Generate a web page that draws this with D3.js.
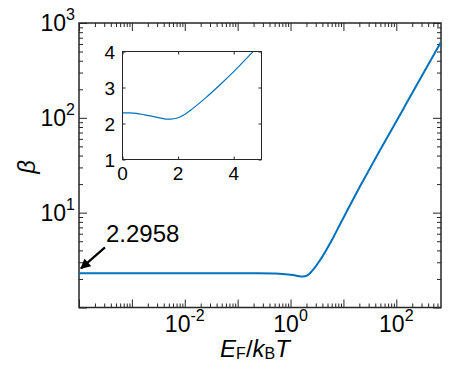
<!DOCTYPE html>
<html>
<head>
<meta charset="utf-8">
<script src="https://cdn.jsdelivr.net/npm/d3@7"></script>
<style>
  body { margin: 0; background: #fff; }
  svg { display: block; font-family: "Liberation Sans", Arial, Helvetica, sans-serif; }
  .tick text { display: none; }
</style>
</head>
<body>
<div id="chart"></div>
<script>
// curve: E_F/k_BT and beta
const efkt = [1e-4, 1e-3, 1e-2, 0.05, 0.2, 0.5, 0.8, 1.0, 1.25, 1.5, 1.7, 2.0, 2.25, 2.5, 3.0, 3.5, 4.0, 4.6, 5.2, 6.5, 8.8, 13, 21, 40, 77, 140, 245, 400, 700];
const beta = [2.2958, 2.2958, 2.2958, 2.2957, 2.294, 2.28, 2.24, 2.21, 2.17, 2.13, 2.12, 2.16, 2.26, 2.40, 2.72, 3.07, 3.44, 3.92, 4.42, 5.55, 7.7, 11.7, 19.3, 37, 71, 128, 223, 362, 632];

// axes
const xDomain = [1e-4, 700];
const yDomain = [1, 1000];
const xDecades = [-4, -3, -2, -1, 0, 1, 2];
const xLabelExp = [-2, 0, 2];
const yDecades = [0, 1, 2, 3];
const yLabelExp = [1, 2, 3];

// inset
const insetXDomain = [0, 5];
const insetYDomain = [1, 4];
const insetXTicks = [0, 2, 4];
const insetYTicks = [1, 2, 3, 4];

// annotation
const noteText = "2.2958";
const noteFrom = [3.1e-4, 4.3];
const noteTo = [1.09e-4, 2.59];

const W = 457, H = 370;
const box = {left: 79, right: 441, top: 23, bottom: 307.5};
const ibox = {left: 122.5, right: 261.5, top: 51.5, bottom: 159.5};
const axisColor = "#262626";
const lineColor = "#0072BD";

const svg = d3.select("#chart").append("svg")
  .attr("width", W).attr("height", H);

const x = d3.scaleLog().domain(xDomain).range([box.left, box.right]);
const y = d3.scaleLog().domain(yDomain).range([box.bottom, box.top]);

const minorOf = (decades, dom) => {
  const out = [];
  decades.forEach(d => {
    for (let k = 2; k <= 9; k++) {
      const v = k * Math.pow(10, d);
      if (v > dom[0] && v < dom[1]) out.push(v);
    }
  });
  return out;
};
const xMajor = xDecades.map(d => Math.pow(10, d));
const yMajor = yDecades.map(d => Math.pow(10, d));
const xMinor = minorOf(xDecades, xDomain);
const yMinor = minorOf(yDecades, yDomain);

const styleAxis = g => {
  g.select(".domain").remove();
  g.selectAll("line").attr("stroke", axisColor).attr("stroke-width", 1);
};

// tick marks, pointing in, mirrored on all four sides
[[xMajor, 8], [xMinor, 4]].forEach(([vals, len]) => {
  svg.append("g").attr("transform", `translate(0,${box.bottom})`)
    .call(d3.axisBottom(x).tickValues(vals).tickSize(-len).tickSizeOuter(0)).call(styleAxis);
  svg.append("g").attr("transform", `translate(0,${box.top})`)
    .call(d3.axisTop(x).tickValues(vals).tickSize(-len).tickSizeOuter(0)).call(styleAxis);
});
[[yMajor, 8], [yMinor, 4]].forEach(([vals, len]) => {
  svg.append("g").attr("transform", `translate(${box.left},0)`)
    .call(d3.axisLeft(y).tickValues(vals).tickSize(-len).tickSizeOuter(0)).call(styleAxis);
  svg.append("g").attr("transform", `translate(${box.right},0)`)
    .call(d3.axisRight(y).tickValues(vals).tickSize(-len).tickSizeOuter(0)).call(styleAxis);
});

svg.append("rect")
  .attr("x", box.left).attr("y", box.top)
  .attr("width", box.right - box.left).attr("height", box.bottom - box.top)
  .attr("fill", "none").attr("stroke", axisColor).attr("stroke-width", 1.5);

// power-of-ten labels
const powLabel = (px, py, exp, anchor) => {
  const t = svg.append("text").attr("x", px).attr("y", py)
    .attr("text-anchor", anchor).style("font-size", "23px").attr("fill", "#000");
  t.append("tspan").text("10");
  t.append("tspan").attr("dy", -11).style("font-size", "16px").text(exp);
};
xLabelExp.forEach(e => powLabel(x(Math.pow(10, e)), 332, e, "middle"));
yLabelExp.forEach(e => powLabel(75, y(Math.pow(10, e)) + 8, e, "end"));

// axis titles
const xt = svg.append("text").attr("x", 255).attr("y", 357)
  .attr("text-anchor", "middle").style("font-size", "24px").attr("fill", "#000");
xt.append("tspan").style("font-style", "italic").text("E");
xt.append("tspan").attr("dy", 2).style("font-size", "16px").text("F");
xt.append("tspan").attr("dy", -2).text("/");
xt.append("tspan").style("font-style", "italic").text("k");
xt.append("tspan").attr("dy", 2).style("font-size", "16px").text("B");
xt.append("tspan").attr("dy", -2).style("font-style", "italic").text("T");

svg.append("text")
  .attr("transform", "translate(35,167) rotate(-90)")
  .attr("text-anchor", "middle")
  .style("font-size", "24px").style("font-style", "italic")
  .text("β");

// main curve
const data = efkt.map((v, i) => ({x: v, b: beta[i]}));
svg.append("clipPath").attr("id", "clipMain").append("rect")
  .attr("x", box.left).attr("y", box.top)
  .attr("width", box.right - box.left).attr("height", box.bottom - box.top);

svg.append("path").datum(data)
  .attr("clip-path", "url(#clipMain)")
  .attr("fill", "none").attr("stroke", lineColor).attr("stroke-width", 2)
  .attr("d", d3.line().x(d => x(d.x)).y(d => y(d.b)).curve(d3.curveCatmullRom.alpha(0.5)));

// annotation arrow
svg.append("defs").append("marker")
  .attr("id", "head").attr("viewBox", "0 0 10 10")
  .attr("refX", 9).attr("refY", 5)
  .attr("markerWidth", 11).attr("markerHeight", 10)
  .attr("markerUnits", "userSpaceOnUse")
  .attr("orient", "auto")
  .append("path").attr("d", "M0,0 L10,5 L0,10 Z").attr("fill", "#000");

svg.append("line")
  .attr("x1", x(noteFrom[0])).attr("y1", y(noteFrom[1]))
  .attr("x2", x(noteTo[0])).attr("y2", y(noteTo[1]))
  .attr("stroke", "#000").attr("stroke-width", 2.2)
  .attr("marker-end", "url(#head)");

svg.append("text")
  .attr("x", x(noteFrom[0]) + 1).attr("y", 242)
  .style("font-size", "24px").attr("fill", "#000")
  .text(noteText);

// inset
const ix = d3.scaleLinear().domain(insetXDomain).range([ibox.left, ibox.right]);
const iy = d3.scaleLinear().domain(insetYDomain).range([ibox.bottom, ibox.top]);

svg.append("rect")
  .attr("x", ibox.left).attr("y", ibox.top)
  .attr("width", ibox.right - ibox.left).attr("height", ibox.bottom - ibox.top)
  .attr("fill", "#fff");

svg.append("g").attr("transform", `translate(0,${ibox.bottom})`)
  .call(d3.axisBottom(ix).tickValues(insetXTicks).tickSize(-3).tickSizeOuter(0)).call(styleAxis);
svg.append("g").attr("transform", `translate(0,${ibox.top})`)
  .call(d3.axisTop(ix).tickValues(insetXTicks).tickSize(-3).tickSizeOuter(0)).call(styleAxis);
svg.append("g").attr("transform", `translate(${ibox.left},0)`)
  .call(d3.axisLeft(iy).tickValues(insetYTicks).tickSize(-3).tickSizeOuter(0)).call(styleAxis);
svg.append("g").attr("transform", `translate(${ibox.right},0)`)
  .call(d3.axisRight(iy).tickValues(insetYTicks).tickSize(-3).tickSizeOuter(0)).call(styleAxis);

svg.append("clipPath").attr("id", "clipInset").append("rect")
  .attr("x", ibox.left).attr("y", ibox.top)
  .attr("width", ibox.right - ibox.left).attr("height", ibox.bottom - ibox.top);

svg.append("path").datum(data.filter(d => d.x < 7))
  .attr("clip-path", "url(#clipInset)")
  .attr("fill", "none").attr("stroke", lineColor).attr("stroke-width", 1.2)
  .attr("d", d3.line().x(d => ix(d.x)).y(d => iy(d.b)).curve(d3.curveCatmullRom.alpha(0.5)));

svg.append("rect")
  .attr("x", ibox.left).attr("y", ibox.top)
  .attr("width", ibox.right - ibox.left).attr("height", ibox.bottom - ibox.top)
  .attr("fill", "none").attr("stroke", axisColor).attr("stroke-width", 1);

svg.append("g").selectAll("text").data(insetXTicks).join("text")
  .attr("x", d => ix(d)).attr("y", 180)
  .attr("text-anchor", "middle").style("font-size", "19px")
  .text(d => d);
svg.append("g").selectAll("text").data(insetYTicks).join("text")
  .attr("x", 115).attr("y", d => iy(d) + 7)
  .attr("text-anchor", "end").style("font-size", "19px")
  .text(d => d);
</script>
</body>
</html>
